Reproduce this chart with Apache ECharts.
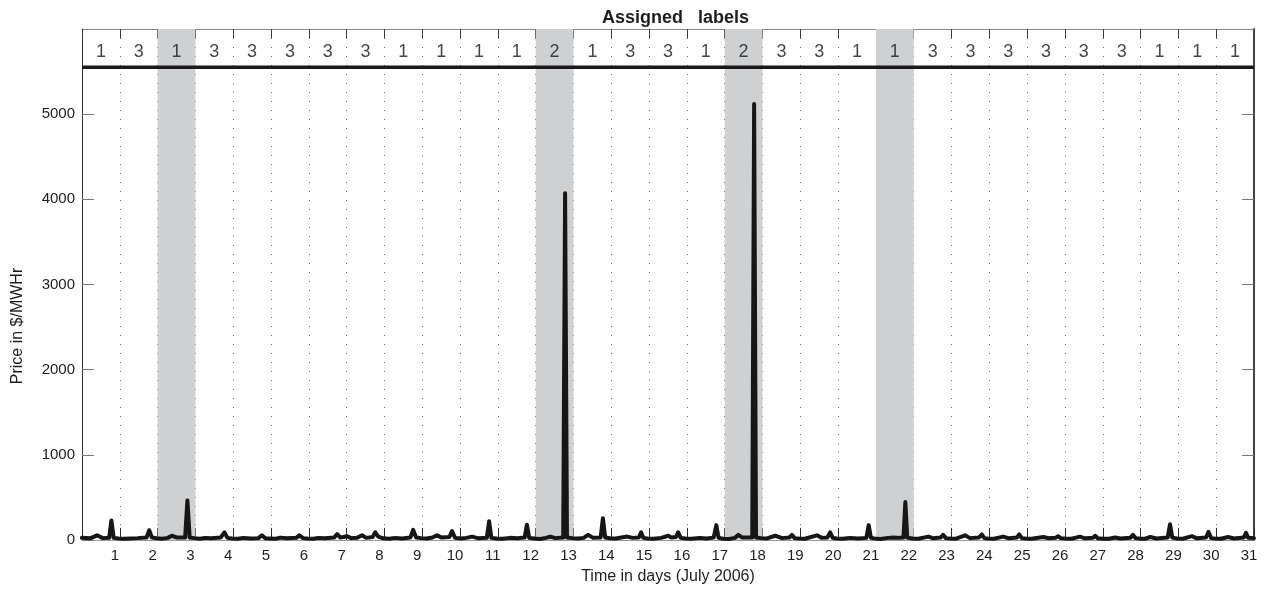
<!DOCTYPE html>
<html>
<head>
<meta charset="utf-8">
<title>Assigned labels</title>
<script src="https://cdn.jsdelivr.net/npm/echarts@6/dist/echarts.min.js"></script>
<style>
  html, body { margin: 0; padding: 0; background: #fff; }
  #chart { width: 1266px; height: 592px; }
</style>
</head>
<body>
<div id="chart"></div>
<script>
// Spot price, July 2006 (time in days, $/MWHr)
const timeDays = [
  0.13, 0.35, 0.53, 0.68, 0.85, 0.91, 0.97, 1.10,
  1.25, 1.41, 1.60, 1.84, 1.91, 1.98, 2.10,
  2.25, 2.40, 2.51, 2.65, 2.86, 2.92, 2.98, 3.10,
  3.25, 3.39, 3.55, 3.80, 3.90, 3.98, 4.10,
  4.25, 4.40, 4.60, 4.80, 4.89, 4.98, 5.10,
  5.25, 5.38, 5.55, 5.80, 5.88, 5.98, 6.10,
  6.25, 6.38, 6.55, 6.80, 6.88, 6.96, 7.05, 7.14, 7.25,
  7.40, 7.54, 7.65, 7.82, 7.89, 7.97, 8.10,
  8.25, 8.42, 8.60, 8.82, 8.89, 8.97, 9.10,
  9.25, 9.40, 9.52, 9.65, 9.85, 9.92, 10.00, 10.15,
  10.30, 10.45, 10.60, 10.84, 10.90, 10.96, 11.10,
  11.25, 11.46, 11.65, 11.84, 11.90, 11.96, 12.10,
  12.25, 12.40, 12.52, 12.65, 12.86, 12.91, 12.96, 13.10,
  13.25, 13.40, 13.52, 13.65, 13.85, 13.91, 13.97, 14.10,
  14.25, 14.55, 14.70, 14.86, 14.92, 14.98, 15.10,
  15.25, 15.45, 15.64, 15.72, 15.84, 15.90, 15.97, 16.10,
  16.25, 16.48, 16.65, 16.84, 16.91, 16.97, 17.10,
  17.25, 17.40, 17.49, 17.60, 17.86, 17.91, 17.96, 18.10,
  18.25, 18.47, 18.65, 18.84, 18.91, 18.98, 19.10,
  19.25, 19.57, 19.70, 19.85, 19.92, 19.99, 20.10,
  20.25, 20.45, 20.65, 20.88, 20.94, 21.00, 21.10,
  21.25, 21.45, 21.59, 21.75, 21.86, 21.91, 21.96, 22.10,
  22.25, 22.52, 22.65, 22.84, 22.91, 22.98, 23.10,
  23.25, 23.49, 23.62, 23.86, 23.93, 24.00, 24.10,
  24.25, 24.50, 24.65, 24.86, 24.92, 24.99, 25.10,
  25.25, 25.56, 25.70, 25.88, 25.95, 26.02, 26.15,
  26.30, 26.53, 26.66, 26.87, 26.93, 27.00, 27.15,
  27.30, 27.46, 27.60, 27.86, 27.93, 28.00, 28.15,
  28.25, 28.39, 28.55, 28.85, 28.91, 28.97, 29.10,
  29.25, 29.49, 29.62, 29.86, 29.93, 30.00, 30.10,
  30.25, 30.45, 30.60, 30.86, 30.92, 30.98, 31.13
];
const priceValues = [
  25, 20, 55, 22, 25, 230, 25, 18,
  15, 18, 22, 30, 115, 30, 20,
  15, 25, 50, 28, 30, 465, 30, 22,
  15, 25, 20, 30, 90, 25, 18,
  15, 25, 18, 22, 55, 20, 18,
  15, 28, 20, 25, 55, 22, 18,
  15, 25, 20, 28, 70, 30, 35, 45, 22,
  25, 55, 25, 35, 90, 40, 20,
  15, 25, 18, 30, 120, 30, 22,
  18, 30, 55, 28, 35, 105, 25, 18,
  25, 40, 22, 25, 220, 25, 18,
  15, 25, 20, 28, 180, 25, 18,
  12, 25, 40, 22, 30, 4070, 30, 22,
  18, 25, 60, 25, 30, 255, 30, 20,
  18, 40, 25, 30, 90, 25, 18,
  15, 25, 50, 30, 35, 90, 25, 18,
  15, 25, 18, 28, 175, 25, 15,
  12, 25, 60, 28, 30, 5120, 30, 22,
  18, 50, 22, 28, 60, 22, 18,
  15, 55, 25, 30, 90, 25, 18,
  15, 25, 18, 25, 175, 25, 18,
  12, 25, 30, 25, 28, 445, 28, 18,
  15, 40, 20, 28, 60, 22, 18,
  15, 55, 22, 30, 65, 22, 18,
  15, 40, 20, 28, 65, 22, 18,
  15, 35, 20, 25, 45, 22, 18,
  15, 40, 20, 25, 50, 20, 15,
  15, 30, 18, 25, 60, 22, 15,
  15, 35, 18, 30, 185, 28, 18,
  15, 45, 20, 28, 95, 22, 18,
  15, 35, 18, 28, 85, 25, 22
];

// Day tick labels along the time axis
const dayTicks = [1, 2, 3, 4, 5, 6, 7, 8, 9, 10, 11, 12, 13, 14, 15, 16,
  17, 18, 19, 20, 21, 22, 23, 24, 25, 26, 27, 28, 29, 30, 31];
// Price tick labels
const priceTicks = [0, 1000, 2000, 3000, 4000, 5000];
// Label assigned to each trading day (one cell per day)
const assignedLabels = [1, 3, 1, 3, 3, 3, 3, 3, 1, 1, 1, 1, 2, 1, 3, 3,
  1, 2, 3, 3, 1, 1, 3, 3, 3, 3, 3, 3, 1, 1, 1];
// Trading days highlighted in grey
const shadedDays = [3, 13, 18, 22];
// Level of the separator between label strip and price plot, and of the label text
const stripLevel = 5550;
const labelLevel = 5730;
const yTop = 6000;
const dayCount = 31;
// Offset between calendar day and trading-day boundaries
const dayOffset = 0.132;

const FONT = '"Liberation Sans", Arial, Helvetica, sans-serif';
const TXT = '#1e1e1e';

const chart = echarts.init(document.getElementById('chart'), null, { renderer: 'canvas' });

const priceData = timeDays.map((t, i) => [t, priceValues[i]]);
const labelData = assignedLabels.map((l, i) => [i + 0.5, labelLevel, l]);
const shadeData = shadedDays.map(d => [{ xAxis: d - 1 }, { xAxis: d }]);

chart.setOption({
  animation: false,
  backgroundColor: '#ffffff',
  textStyle: { fontFamily: FONT },
  title: {
    text: 'Assigned   labels',
    left: 597,
    top: 4,
    textStyle: { fontFamily: FONT, fontSize: 18, fontWeight: 'bold', color: TXT }
  },
  grid: { left: 82, right: 12, top: 29, bottom: 52, containLabel: false },
  xAxis: [
    {
      // calendar time axis carrying the price series and day labels
      type: 'value',
      min: dayOffset,
      max: dayCount + dayOffset,
      position: 'bottom',
      axisLine: { show: true, onZero: false, lineStyle: { color: '#9a9a9a', width: 1 } },
      axisTick: { show: false },
      splitLine: { show: false },
      axisLabel: {
        customValues: dayTicks,
        formatter: v => String(Math.round(v)),
        color: TXT, fontSize: 15, fontFamily: FONT, margin: 8
      }
    },
    {
      // trading-day boundaries: ticks and dotted grid
      type: 'value',
      min: 0,
      max: dayCount,
      interval: 1,
      position: 'bottom',
      axisLine: { show: false, onZero: false },
      axisTick: { show: true, inside: true, length: 12, lineStyle: { color: '#2a2a2a', width: 1 } },
      axisLabel: { show: false },
      splitLine: { show: true, lineStyle: { color: '#6a6a6a', width: 1, type: [1, 8] } }
    },
    {
      type: 'value',
      min: 0,
      max: dayCount,
      interval: 1,
      position: 'top',
      axisLine: { show: true, onZero: false, lineStyle: { color: '#8a8a8a', width: 1 } },
      axisTick: { show: true, inside: true, length: 9, lineStyle: { color: '#3a3a3a', width: 1 } },
      axisLabel: { show: false },
      splitLine: { show: false }
    }
  ],
  yAxis: [
    {
      type: 'value',
      min: 0,
      max: yTop,
      position: 'left',
      axisLine: { show: true, onZero: false, lineStyle: { color: '#333', width: 1 } },
      axisTick: { show: true, inside: true, length: 12, customValues: priceTicks, lineStyle: { color: '#777', width: 1 } },
      axisLabel: {
        customValues: priceTicks,
        formatter: v => String(Math.round(v)),
        color: TXT, fontSize: 15, fontFamily: FONT, margin: 7
      },
      splitLine: { show: false }
    },
    {
      type: 'value',
      min: 0,
      max: yTop,
      position: 'right',
      axisLine: { show: true, onZero: false, lineStyle: { color: '#444', width: 2 } },
      axisTick: { show: true, inside: true, length: 12, customValues: priceTicks, lineStyle: { color: '#777', width: 1 } },
      axisLabel: { show: false },
      splitLine: { show: false }
    }
  ],
  graphic: [
    {
      type: 'text',
      x: 668, y: 577,
      style: { text: 'Time in days (July 2006)', font: '16px ' + FONT, fill: TXT, align: 'center', verticalAlign: 'middle' }
    },
    {
      type: 'text',
      x: 18, y: 326,
      rotation: Math.PI / 2,
      style: { text: 'Price in $/MWHr', font: '16px ' + FONT, fill: TXT, align: 'center', verticalAlign: 'middle' }
    }
  ],
  series: [
    {
      // separator between label strip and price plot, with shaded days
      type: 'line',
      xAxisIndex: 1,
      yAxisIndex: 0,
      data: [[0, stripLevel], [dayCount, stripLevel]],
      symbol: 'none',
      silent: true,
      z: 3,
      lineStyle: { color: '#1a1a1a', width: 3.5 },
      markArea: {
        silent: true,
        itemStyle: { color: '#cfd0d2' },
        data: shadeData
      }
    },
    {
      type: 'line',
      name: 'Price',
      xAxisIndex: 0,
      yAxisIndex: 0,
      data: priceData,
      symbol: 'none',
      z: 5,
      lineStyle: { color: '#161616', width: 4, join: 'round', cap: 'round' }
    },
    {
      type: 'scatter',
      xAxisIndex: 1,
      yAxisIndex: 0,
      data: labelData,
      symbolSize: 0,
      silent: true,
      z: 6,
      label: {
        show: true,
        position: 'inside',
        formatter: p => String(p.value[2]),
        color: '#151515',
        fontSize: 18,
        fontFamily: FONT
      }
    }
  ]
});
</script>
</body>
</html>
